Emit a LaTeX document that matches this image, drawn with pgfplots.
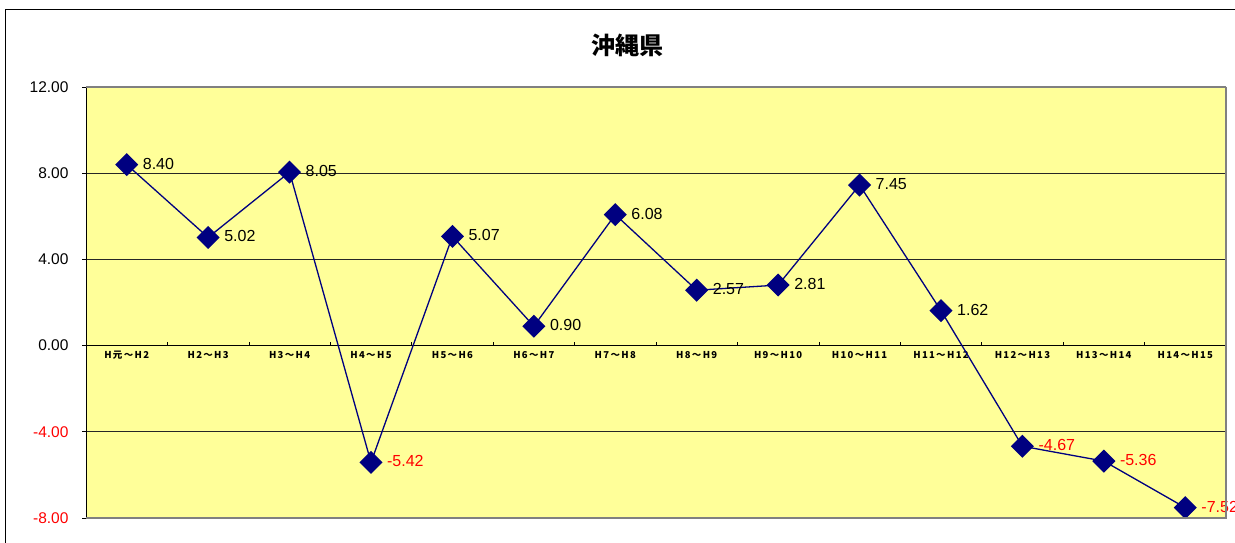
\documentclass[border=0pt]{standalone}
\usepackage{fontspec}
\setmainfont{Liberation Sans}
\newfontfamily\cjk{Noto Sans CJK JP}
\newfontfamily\cjkx[LetterSpace=14]{Noto Sans CJK JP}
\usepackage{pgfplots}
\usepackage{pgfplotstable}
\pgfplotsset{compat=1.18}
\definecolor{plotbg}{RGB}{255,255,153}
\definecolor{navy}{RGB}{0,0,128}

% 伸び率（H元～H15）, neg = 1 for red labels
\pgfplotstableread{
x y neg
0 8.40 0
1 5.02 0
2 8.05 0
3 -5.42 1
4 5.07 0
5 0.90 0
6 6.08 0
7 2.57 0
8 2.81 0
9 7.45 0
10 1.62 0
11 -4.67 1
12 -5.36 1
13 -7.52 1
}\okinawa

\begin{document}
\begin{tikzpicture}[x=1pt,y=1pt]
\useasboundingbox (0,0) rectangle (1235,-542);
\draw[line width=1.4pt] (5.5,-600) -- (5.5,-9.5) -- (1300,-9.5);
\node[font=\cjk\bfseries\fontsize{24}{28}\selectfont] at (627,-45) {沖縄県};
\begin{axis}[
  at={(86pt,-518pt)}, anchor=south west,
  scale only axis, width=1140pt, height=431pt,
  xmin=-0.5, xmax=13.5, ymin=-8, ymax=12,
  axis x line=middle, axis y line=left,
  axis line style={-, black, line width=1pt},
  axis background/.style={fill=plotbg},
  clip=false,
  xtick={0,...,13},
  xticklabels={H元～H2,H2～H3,H3～H4,H4～H5,H5～H6,H6～H7,H7～H8,H8～H9,H9～H10,H10～H11,H11～H12,H12～H13,H13～H14,H14～H15},
  x tick label style={font=\cjkx\bfseries\fontsize{9.5}{10}\selectfont, yshift=-2pt},
  major x tick style={draw=none},
  minor xtick={-0.5,0.5,...,13.5},
  minor x tick style={black, line width=0.6pt},
  minor tick length=4pt,
  xtick align=inside,
  ytick={-8,-4,0,4,8,12},
  yticklabels={\textcolor{red}{-8.00},\textcolor{red}{-4.00},0.00,4.00,8.00,12.00},
  y tick label style={font=\fontsize{15.5}{18}\selectfont, xshift=-10pt},
  ytick align=outside, major tick length=4pt,
  ytick style={black, line width=0.8pt},
  ymajorgrids, y grid style={black!85, line width=0.8pt},
]
\addplot[navy, line width=1.3pt, mark=square*, mark size=7.5pt,
  mark options={rotate=45, fill=navy, solid},
  point meta=explicit symbolic,
  visualization depends on={\thisrow{neg} \as \isneg},
  nodes near coords={\ifdim\isneg pt>0.5pt\color{red}\else\color{black}\fi\pgfplotspointmeta},
  every node near coord/.append style={anchor=west, xshift=14.5pt, yshift=1pt,
    inner sep=1pt, font=\fontsize{16}{18}\selectfont}]
  table[x=x, y=y, meta=y] {\okinawa};
\end{axis}
\draw[gray, line width=1.3pt] (86,-87) -- (1226,-87);
\draw[gray, line width=2pt] (1226,-86.5) -- (1226,-518) -- (86,-518);
\end{tikzpicture}
\end{document}
